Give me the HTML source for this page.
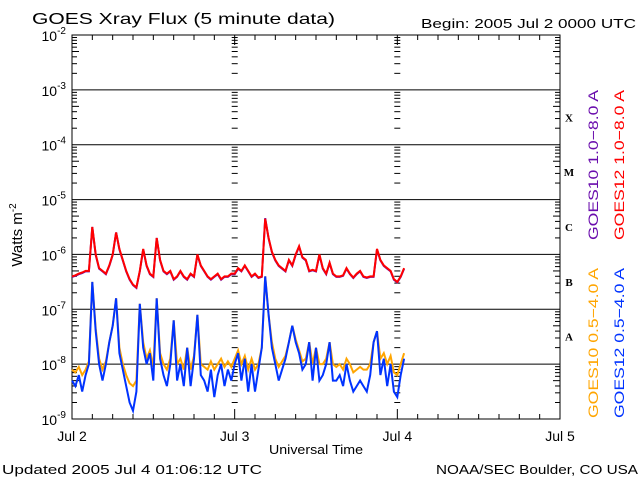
<!DOCTYPE html>
<html><head><meta charset="utf-8"><style>
body{margin:0;background:#fff;}
svg{display:block;font-family:"Liberation Sans",sans-serif;}
</style></head><body>
<svg id="c" width="640" height="480">
<text x="32" y="24" font-size="16" textLength="303" lengthAdjust="spacingAndGlyphs">GOES Xray Flux (5 minute data)</text>
<text x="421" y="28" font-size="13" textLength="215" lengthAdjust="spacingAndGlyphs">Begin:  2005 Jul 2 0000 UTC</text>
<text x="22" y="235" font-size="15" transform="rotate(-90 22 235)" text-anchor="middle">Watts m<tspan dy="-6" font-size="10">-2</tspan></text>
<text x="269" y="454" font-size="13" textLength="94" lengthAdjust="spacingAndGlyphs">Universal Time</text>
<text x="2" y="474" font-size="13" textLength="260" lengthAdjust="spacingAndGlyphs">Updated 2005 Jul  4 01:06:12 UTC</text>
<text x="436" y="474" font-size="13" textLength="202" lengthAdjust="spacingAndGlyphs">NOAA/SEC Boulder, CO USA</text>
<g font-size="14">
<text transform="translate(598,240) rotate(-90)" fill="#6a0dad" textLength="150" lengthAdjust="spacingAndGlyphs">GOES10 1.0−8.0 A</text>
<text transform="translate(624,240) rotate(-90)" fill="#ff0000" textLength="150" lengthAdjust="spacingAndGlyphs">GOES12 1.0−8.0 A</text>
<text transform="translate(598,418) rotate(-90)" fill="#ffa500" textLength="150" lengthAdjust="spacingAndGlyphs">GOES10 0.5−4.0 A</text>
<text transform="translate(624,418) rotate(-90)" fill="#0033ff" textLength="150" lengthAdjust="spacingAndGlyphs">GOES12 0.5−4.0 A</text>
</g>
</svg>
<script>
const yDecades=[-2,-3,-4,-5,-6,-7,-8,-9];
const dayLabels=["Jul 2","Jul 3","Jul 4","Jul 5"];
const classLabels=["X","M","C","B","A"];
const startHour=0, stepHour=0.5;
const goes12Long=[-6.4,-6.38,-6.35,-6.33,-6.3,-6.3,-5.5,-6.0,-6.25,-6.3,-6.35,-6.2,-6.0,-5.6,-5.9,-6.1,-6.3,-6.45,-6.55,-6.6,-6.3,-5.9,-6.2,-6.35,-6.4,-5.7,-6.1,-6.3,-6.35,-6.3,-6.45,-6.4,-6.3,-6.4,-6.45,-6.35,-6.4,-6.0,-6.2,-6.3,-6.4,-6.45,-6.4,-6.35,-6.45,-6.4,-6.4,-6.35,-6.35,-6.25,-6.3,-6.2,-6.3,-6.4,-6.35,-6.42,-6.4,-5.35,-5.7,-5.95,-6.1,-6.2,-6.25,-6.3,-6.1,-6.2,-6.0,-5.85,-6.05,-6.1,-6.3,-6.28,-6.3,-6.0,-6.25,-6.35,-6.15,-6.35,-6.4,-6.4,-6.38,-6.25,-6.35,-6.42,-6.35,-6.3,-6.4,-6.42,-6.4,-6.4,-5.9,-6.1,-6.2,-6.25,-6.3,-6.45,-6.5,-6.4,-6.25];
const goes10Long=[-6.41,-6.39,-6.36,-6.34,-6.31,-6.31,-5.5,-6.01,-6.26,-6.31,-6.36,-6.21,-6.01,-5.6,-5.91,-6.11,-6.31,-6.46,-6.56,-6.61,-6.31,-5.91,-6.21,-6.36,-6.41,-5.7,-6.11,-6.31,-6.36,-6.31,-6.46,-6.41,-6.31,-6.41,-6.46,-6.36,-6.41,-6.01,-6.21,-6.31,-6.41,-6.46,-6.41,-6.36,-6.46,-6.41,-6.41,-6.36,-6.36,-6.26,-6.31,-6.21,-6.31,-6.41,-6.36,-6.43,-6.41,-5.34,-5.71,-5.96,-6.11,-6.21,-6.26,-6.31,-6.11,-6.21,-6.01,-5.86,-6.06,-6.11,-6.31,-6.29,-6.31,-6.01,-6.26,-6.36,-6.16,-6.36,-6.41,-6.41,-6.39,-6.26,-6.36,-6.43,-6.36,-6.31,-6.41,-6.43,-6.41,-6.41,-5.91,-6.11,-6.21,-6.26,-6.31,-6.46,-6.51,-6.41,-6.26];
const goes12Short=[-8.3,-8.4,-8.2,-8.5,-8.2,-8.0,-6.5,-7.4,-8.0,-8.3,-8.0,-7.6,-7.3,-6.8,-7.8,-8.1,-8.4,-8.7,-8.85,-8.5,-6.9,-7.7,-8.0,-7.8,-8.3,-6.8,-7.9,-8.2,-8.4,-8.0,-7.2,-8.3,-8.0,-8.4,-7.7,-8.4,-7.9,-7.1,-8.2,-8.3,-8.5,-8.1,-8.6,-8.2,-8.0,-8.4,-8.1,-8.3,-8.0,-7.8,-8.3,-7.9,-8.5,-8.0,-8.5,-8.1,-7.7,-6.4,-7.1,-7.7,-8.0,-8.3,-8.1,-7.9,-7.6,-7.3,-7.6,-7.8,-8.1,-8.0,-7.6,-8.3,-7.7,-8.3,-8.2,-8.0,-7.6,-8.3,-8.3,-8.2,-8.4,-8.0,-8.3,-8.5,-8.4,-8.3,-8.4,-8.5,-8.2,-7.6,-7.4,-8.2,-7.9,-8.4,-8.0,-8.5,-8.6,-8.2,-7.9];
const goes10Short=[-8.1,-8.15,-8.05,-8.2,-8.1,-7.95,-6.5,-7.35,-7.9,-8.1,-7.95,-7.6,-7.3,-6.8,-7.7,-8.0,-8.2,-8.35,-8.4,-8.3,-6.9,-7.6,-7.9,-7.75,-8.05,-6.8,-7.8,-8.0,-8.1,-7.9,-7.2,-8.0,-7.9,-8.1,-7.7,-8.1,-7.85,-7.1,-8.0,-8.05,-8.1,-7.95,-8.1,-8.0,-7.9,-8.05,-7.95,-8.05,-7.9,-7.75,-8.0,-7.85,-8.1,-7.9,-8.1,-8.0,-7.7,-6.4,-7.1,-7.6,-7.9,-8.05,-7.95,-7.85,-7.6,-7.3,-7.55,-7.75,-7.95,-7.9,-7.6,-8.0,-7.7,-8.0,-8.0,-7.9,-7.6,-8.0,-8.05,-8.0,-8.1,-7.9,-8.0,-8.15,-8.1,-8.05,-8.1,-8.1,-8.0,-7.6,-7.4,-7.9,-7.8,-8.0,-7.85,-8.15,-8.2,-8.0,-7.8];

const NS='http://www.w3.org/2000/svg';
const svg=document.getElementById('c');
const L=72,R=560,T=35,B=419,H0=0,H1=72;
const xs=h=>L+(h-H0)/(H1-H0)*(R-L);
const ys=v=>T+(yDecades[0]-v)/(yDecades[0]-yDecades[yDecades.length-1])*(B-T);
function mk(tag,attrs,parent){const e=document.createElementNS(NS,tag);for(const k in attrs)e.setAttribute(k,attrs[k]);(parent||svg).appendChild(e);return e;}
const grid=mk('g',{stroke:'#000','stroke-width':1});


mk('rect',{x:L,y:T,width:R-L,height:B-T,fill:'none'},grid);
yDecades.forEach((d,i)=>{
  const y=ys(d);
  if(i>0&&i<yDecades.length-1) mk('line',{x1:L,x2:R,y1:y,y2:y},grid);
  const t=mk('text',{x:L-6,y:y+6,'font-size':14,'text-anchor':'end',stroke:'none'});
  
  
  t.innerHTML='10<tspan dy="-7" font-size="10">'+d+'</tspan>';
  if(i<yDecades.length-1){
    for(let m=2;m<=9;m++){
      const yy=ys(d-1+Math.log10(m));
      const len=m===5?7:5;
      [L,R].forEach(x0=>mk('line',{x1:x0,x2:x0+(x0===L?len:-len),y1:yy,y2:yy},grid));
      [L+162.7,L+325.3].forEach(x0=>mk('line',{x1:x0-3,x2:x0+3,y1:yy,y2:yy},grid));
    }
  }
});
for(let h=0;h<=72;h+=3){
  const x=xs(h);const len=h%24===0?10:5;
  mk('line',{x1:x,x2:x,y1:B,y2:B-len},grid);
  mk('line',{x1:x,x2:x,y1:T,y2:T+len},grid);
}
dayLabels.forEach((s,i)=>{
  const t=mk('text',{x:xs(i*24),y:441,'font-size':14,'text-anchor':'middle'});
  
  
  t.textContent=s;
});
classLabels.forEach((s,i)=>{
  const t=mk('text',{x:569,y:(ys(-3-i)+ys(-4-i))/2+4,'font-size':11,'font-weight':'bold','font-family':'Liberation Serif,serif','text-anchor':'middle'});
  
  
  t.textContent=s;
});
function series(vals,color,name){
  let d='';
  vals.forEach((v,i)=>{const x=xs(startHour+i*stepHour),y=ys(v);d+=(i?'L':'M')+x.toFixed(1)+','+y.toFixed(1);});
  const p=mk('path',{d:d,fill:'none',stroke:color,'stroke-width':2,'stroke-linejoin':'miter'});
  
  
}
series(goes10Long,'#6a0dad','goes10-long-line');
series(goes12Long,'#ff0000','goes12-long-line');
series(goes10Short,'#ffa500','goes10-short-line');
series(goes12Short,'#0033ff','goes12-short-line');
</script>
</body></html>
